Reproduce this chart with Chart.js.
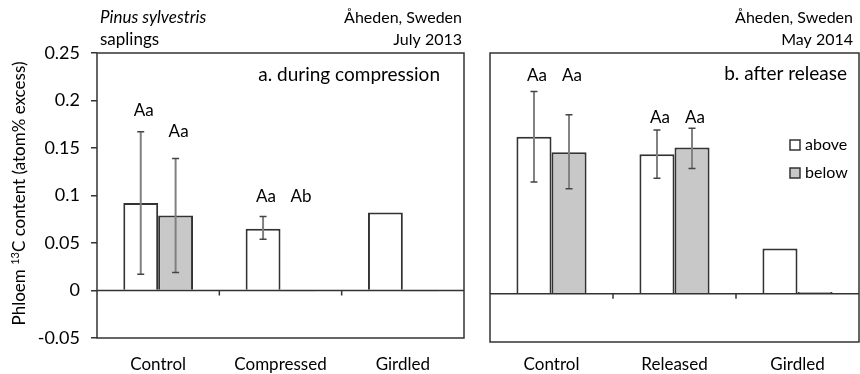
<!DOCTYPE html>
<html>
<head>
<meta charset="utf-8">
<script src="https://cdn.jsdelivr.net/npm/chart.js@4.4.0/dist/chart.umd.min.js"></script>
<style>
  body { margin: 0; background: #fff; }
  #wrap { position: relative; width: 860px; height: 374px; }
  canvas { position: absolute; top: 0; }
  #left { left: 0; }
  #right { left: 470px; }
</style>
</head>
<body>
<div id="wrap">
  <canvas id="left" width="470" height="374"></canvas>
  <canvas id="right" width="390" height="374"></canvas>
</div>
<script>
// panel a: during compression (July 2013)
const categoriesA = ['Control', 'Compressed', 'Girdled'];
const aboveA = [0.092, 0.065, 0.082];
const belowA = [0.079, -0.001, -0.001];
const aboveErrLowA = [0.017, 0.054, null];
const aboveErrHighA = [0.167, 0.078, null];
const belowErrLowA = [0.019, null, null];
const belowErrHighA = [0.139, null, null];
const aboveLettersA = ['Aa', 'Aa', ''];
const belowLettersA = ['Aa', 'Ab', ''];
const aboveLetterLevelA = [0.189, 0.099, null];
const belowLetterLevelA = [0.167, 0.099, null];

// panel b: after release (May 2014)
const categoriesB = ['Control', 'Released', 'Girdled'];
const aboveB = [0.163, 0.145, 0.047];
const belowB = [0.147, 0.152, 0.002];
const aboveErrLowB = [0.116, 0.120, null];
const aboveErrHighB = [0.210, 0.170, null];
const belowErrLowB = [0.109, 0.130, null];
const belowErrHighB = [0.186, 0.172, null];
const aboveLettersB = ['Aa', 'Aa', ''];
const belowLettersB = ['Aa', 'Aa', ''];
const aboveLetterLevelB = [0.227, 0.183, null];
const belowLetterLevelB = [0.227, 0.183, null];

const yTicks = [-0.05, 0, 0.05, 0.1, 0.15, 0.2, 0.25];

const FONT = 'Lato, "Open Sans", sans-serif';
const INK = '#333333';

Chart.defaults.font.family = FONT;
Chart.defaults.font.size = 17;
Chart.defaults.color = '#000';

function barSets(above, below) {
  return [
    { label: 'above', data: above, backgroundColor: '#ffffff', borderColor: INK, borderWidth: 2 },
    { label: 'below', data: below, backgroundColor: '#c8c8c8', borderColor: INK, borderWidth: 2 }
  ];
}

// frame, zero line, category ticks, error bars and letters
function decorPlugin(errs, letters) {
  return {
    id: 'decor',
    afterDatasetsDraw(chart) {
      const ctx = chart.ctx;
      const a = chart.chartArea;
      const y = chart.scales.y;
      const x = chart.scales.x;
      const y0 = y.getPixelForValue(0);
      ctx.save();
      // zero line
      ctx.strokeStyle = INK;
      ctx.lineWidth = 1.5;
      ctx.beginPath();
      ctx.moveTo(a.left, y0);
      ctx.lineTo(a.right, y0);
      ctx.stroke();
      // category separators on the zero line
      for (let i = 1; i < chart.data.labels.length; i++) {
        const px = (x.getPixelForValue(i - 1) + x.getPixelForValue(i)) / 2;
        ctx.beginPath();
        ctx.moveTo(px, y0);
        ctx.lineTo(px, y0 + 5);
        ctx.stroke();
      }
      // error bars
      errs.forEach((e, di) => {
        const meta = chart.getDatasetMeta(di);
        meta.data.forEach((bar, i) => {
          if (e.low[i] == null) return;
          const cx = bar.x;
          const top = y.getPixelForValue(e.high[i]);
          const bot = y.getPixelForValue(e.low[i]);
          ctx.strokeStyle = '#808080';
          ctx.lineWidth = 2;
          ctx.beginPath();
          ctx.moveTo(cx, top);
          ctx.lineTo(cx, bot);
          ctx.stroke();
          ctx.strokeStyle = '#444';
          ctx.lineWidth = 1.5;
          ctx.beginPath();
          ctx.moveTo(cx - 3.5, top);
          ctx.lineTo(cx + 3.5, top);
          ctx.moveTo(cx - 3.5, bot);
          ctx.lineTo(cx + 3.5, bot);
          ctx.stroke();
        });
      });
      // significance letters
      ctx.fillStyle = '#000';
      ctx.font = '17px ' + FONT;
      ctx.textAlign = 'center';
      ctx.textBaseline = 'middle';
      letters.forEach((l, di) => {
        const meta = chart.getDatasetMeta(di);
        meta.data.forEach((bar, i) => {
          if (!l.text[i]) return;
          ctx.fillText(l.text[i], bar.x + 3, y.getPixelForValue(l.level[i]));
        });
      });
      // frame
      ctx.strokeStyle = INK;
      ctx.lineWidth = 1.5;
      ctx.strokeRect(a.left, a.top, a.right - a.left, a.bottom - a.top);
      ctx.restore();
    }
  };
}

function textPlugin(lines) {
  return {
    id: 'texts',
    afterDraw(chart) {
      const ctx = chart.ctx;
      ctx.save();
      ctx.fillStyle = '#000';
      ctx.textBaseline = 'middle';
      lines.forEach(t => {
        ctx.font = (t.style || '') + ' ' + (t.size || 16) + 'px ' + FONT;
        ctx.textAlign = t.align;
        ctx.fillText(t.text, t.x, t.y);
      });
      ctx.restore();
    }
  };
}

const yAxisTitle = {
  id: 'ytitle',
  afterDraw(chart) {
    const ctx = chart.ctx;
    const a = chart.chartArea;
    ctx.save();
    ctx.translate(20, (a.top + a.bottom) / 2 - 2);
    ctx.rotate(-Math.PI / 2);
    ctx.fillStyle = '#000';
    ctx.textBaseline = 'middle';
    const p1 = 'Phloem ', sup = '13', p2 = 'C content (atom% excess)';
    ctx.font = '17px ' + FONT;
    const w1 = ctx.measureText(p1).width, w2 = ctx.measureText(p2).width;
    ctx.font = '11px ' + FONT;
    const ws = ctx.measureText(sup).width;
    let sx = -(w1 + ws + w2) / 2;
    ctx.textAlign = 'left';
    ctx.font = '17px ' + FONT;
    ctx.fillText(p1, sx, 0);
    ctx.font = '11px ' + FONT;
    ctx.fillText(sup, sx + w1, -5);
    ctx.font = '17px ' + FONT;
    ctx.fillText(p2, sx + w1 + ws, 0);
    ctx.restore();
  }
};

const legendPlugin = {
  id: 'boxlegend',
  afterDraw(chart) {
    const ctx = chart.ctx;
    ctx.save();
    const items = chart.data.datasets;
    items.forEach((d, i) => {
      const bx = 320, by = 140 + i * 28;
      ctx.fillStyle = d.backgroundColor;
      ctx.fillRect(bx, by, 10, 10);
      ctx.strokeStyle = INK;
      ctx.lineWidth = 1.5;
      ctx.strokeRect(bx, by, 10, 10);
      ctx.fillStyle = '#000';
      ctx.font = '16px ' + FONT;
      ctx.textAlign = 'left';
      ctx.textBaseline = 'middle';
      ctx.fillText(d.label, bx + 15, by + 5);
    });
    ctx.restore();
  }
};

function baseOptions(yWidth, xHeight, padRight, showY, xPad) {
  return {
    responsive: false,
    animation: false,
    devicePixelRatio: 1,
    layout: { padding: { top: 53, right: padRight, left: 0, bottom: 0 } },
    plugins: { legend: { display: false }, tooltip: { enabled: false } },
    datasets: { bar: { categoryPercentage: 0.57, barPercentage: 1.0, borderSkipped: 'start' } },
    scales: {
      x: {
        grid: { display: false, drawTicks: false },
        border: { display: false },
        ticks: { padding: xPad, maxRotation: 0, font: { size: 17 } },
        afterFit(s) { s.height = xHeight; }
      },
      y: {
        min: -0.05,
        max: 0.25,
        afterBuildTicks(s) { s.ticks = yTicks.map(v => ({ value: v })); },
        grid: {
          drawOnChartArea: false,
          drawTicks: showY,
          tickLength: 6,
          tickColor: INK,
          lineWidth: 1.5
        },
        border: { display: false },
        ticks: {
          display: showY,
          padding: 11,
          font: { size: 18 },
          callback: v => String(Number(v.toFixed(2)))
        },
        afterFit(s) { s.width = yWidth; }
      }
    }
  };
}

new Chart(document.getElementById('left'), {
  type: 'bar',
  data: { labels: categoriesA, datasets: barSets(aboveA, belowA) },
  options: baseOptions(97, 36, 6, true, 16),
  plugins: [
    decorPlugin(
      [{ low: aboveErrLowA, high: aboveErrHighA }, { low: belowErrLowA, high: belowErrHighA }],
      [{ text: aboveLettersA, level: aboveLetterLevelA }, { text: belowLettersA, level: belowLetterLevelA }]
    ),
    textPlugin([
      { text: 'Pinus sylvestris', x: 100, y: 18, align: 'left', style: 'italic', size: 17 },
      { text: 'saplings', x: 100, y: 40, align: 'left', size: 17 },
      { text: 'Åheden, Sweden', x: 462, y: 18, align: 'right' },
      { text: 'July 2013', x: 462, y: 40, align: 'right' },
      { text: 'a. during compression', x: 440, y: 75, align: 'right', size: 19 }
    ]),
    yAxisTitle
  ]
});

new Chart(document.getElementById('right'), {
  type: 'bar',
  data: { labels: categoriesB, datasets: barSets(aboveB, belowB) },
  options: baseOptions(20, 32, 1, false, 12),
  plugins: [
    decorPlugin(
      [{ low: aboveErrLowB, high: aboveErrHighB }, { low: belowErrLowB, high: belowErrHighB }],
      [{ text: aboveLettersB, level: aboveLetterLevelB }, { text: belowLettersB, level: belowLetterLevelB }]
    ),
    textPlugin([
      { text: 'Åheden, Sweden', x: 383, y: 18, align: 'right' },
      { text: 'May 2014', x: 383, y: 40, align: 'right' },
      { text: 'b. after release', x: 377, y: 74, align: 'right', size: 19 }
    ]),
    legendPlugin
  ]
});
</script>
</body>
</html>
